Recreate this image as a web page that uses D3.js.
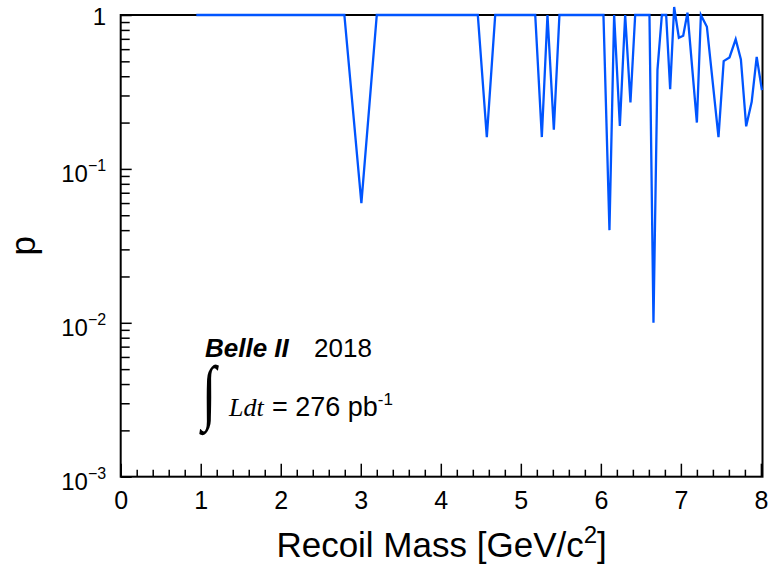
<!DOCTYPE html>
<html><head><meta charset="utf-8">
<script src="https://cdn.jsdelivr.net/npm/d3@7"></script>
<style>body{margin:0;background:#fff}svg{display:block}</style>
</head><body><svg id="c" width="769" height="572"></svg>
<script>
// ---- data ----
const massValues = [0.945, 2.795, 3.0075, 3.20, 4.4625, 4.575, 4.68, 5.18, 5.2625, 5.333, 5.4125, 5.4825,
  6.0325, 6.1075, 6.166, 6.2375, 6.30375, 6.37, 6.429, 6.6075, 6.6575, 6.7075, 6.7625, 6.816, 6.866,
  6.916, 6.975, 7.029, 7.0825, 7.20, 7.25, 7.325, 7.47, 7.535, 7.6075, 7.685, 7.75, 7.816, 7.885, 7.9475, 8.0125];
const pValues = [1, 1, 0.06, 1, 1, 0.161, 1, 1, 0.161, 1, 0.18, 1,
  1, 0.04, 1, 0.19, 1, 0.27, 1, 1, 0.01, 0.44, 1, 1, 0.33,
  1.127, 0.711, 0.733, 1.035, 0.20, 1, 0.839, 0.161, 0.502, 0.530, 0.695, 0.515, 0.189, 0.273, 0.535, 0.325];
const xMajorTicks = [0, 1, 2, 3, 4, 5, 6, 7, 8];
const xTickLabels = ["0", "1", "2", "3", "4", "5", "6", "7", "8"];
const yMajorTicks = [1e-3, 1e-2, 1e-1, 1];
const yTickBase = ["10", "10", "10", "1"];
const yTickExp = ["\u22123", "\u22122", "\u22121", ""];
const xDomain = [0, 8.02];
const yDomain = [1e-3, 1];

// ---- layout ----
const L = 120.7, R = 762.5, T = 15, B = 476.7;
const svg = d3.select("#c");
const x = d3.scaleLinear().domain(xDomain).range([L, R]);
const y = d3.scaleLog().domain(yDomain).range([B, T]);
const sans = "'Liberation Sans', Arial, Helvetica, sans-serif";
const serif = "'Liberation Serif', 'Times New Roman', serif";

// x minor ticks
const xMinor = d3.range(0, 8.001, 0.2).filter(v => Math.abs(v - Math.round(v)) > 1e-6);
svg.append("g").attr("transform", `translate(0,${B})`)
  .call(d3.axisBottom(x).tickValues(xMinor).tickSizeInner(-7).tickSizeOuter(0).tickFormat(""))
  .call(g => g.select(".domain").remove())
  .call(g => g.selectAll("line").attr("stroke", "#000").attr("stroke-width", 1.5));
// x major ticks
const gx = svg.append("g").attr("transform", `translate(0,${B})`)
  .call(d3.axisBottom(x).tickValues(xMajorTicks).tickSizeInner(-13).tickSizeOuter(0)
    .tickFormat((d, i) => xTickLabels[i]).tickPadding(0))
  .call(g => g.select(".domain").remove())
  .call(g => g.selectAll("line").attr("stroke", "#000").attr("stroke-width", 1.5));
gx.selectAll("text").attr("y", 32).attr("dy", null)
  .attr("font-family", sans).attr("font-size", 25).attr("fill", "#000");

// y minor ticks
const yMinor = [];
[1e-3, 1e-2, 1e-1].forEach(d => { for (let k = 2; k <= 9; k++) yMinor.push(d * k); });
svg.append("g").attr("transform", `translate(${L},0)`)
  .call(d3.axisLeft(y).tickValues(yMinor).tickSizeInner(-9).tickSizeOuter(0).tickFormat(""))
  .call(g => g.select(".domain").remove())
  .call(g => g.selectAll("line").attr("stroke", "#000").attr("stroke-width", 1.5));
// y major ticks
const gy = svg.append("g").attr("transform", `translate(${L},0)`)
  .call(d3.axisLeft(y).tickValues(yMajorTicks).tickSizeInner(-11).tickSizeOuter(0).tickFormat(""))
  .call(g => g.select(".domain").remove())
  .call(g => g.selectAll("line").attr("stroke", "#000").attr("stroke-width", 1.5));
gy.selectAll(".tick").each(function (d, i) {
  const t = d3.select(this).append("text")
    .attr("x", -14.5).attr("text-anchor", "end")
    .attr("font-family", sans).attr("fill", "#000");
  if (yTickExp[i]) {
    t.attr("y", 12.5);
    t.append("tspan").attr("font-size", 24).text(yTickBase[i]);
    t.append("tspan").attr("font-size", 16).attr("dy", -10.5).text(yTickExp[i]);
  } else {
    t.attr("y", 9).attr("font-size", 24).text(yTickBase[i]);
  }
});

// frame
svg.append("rect").attr("x", L).attr("y", T).attr("width", R - L).attr("height", B - T)
  .attr("fill", "none").attr("stroke", "#000").attr("stroke-width", 2);

// line
svg.append("path")
  .datum(massValues.map((m, i) => [m, pValues[i]]))
  .attr("fill", "none").attr("stroke", "#0055ff").attr("stroke-width", 2.3)
  .attr("stroke-linejoin", "miter")
  .attr("d", d3.line().x(d => x(d[0])).y(d => y(d[1])));

// axis titles
const xt = svg.append("text").attr("x", (L + R) / 2).attr("y", 557)
  .attr("text-anchor", "middle").attr("font-family", sans).attr("font-size", 35).attr("fill", "#000");
xt.append("tspan").text("Recoil Mass [GeV/c");
xt.append("tspan").attr("font-size", 24).attr("dy", -14).text("2");
xt.append("tspan").attr("dy", 14).text("]");

svg.append("text").attr("transform", `translate(35,${(T + B) / 2}) rotate(-90)`)
  .attr("text-anchor", "middle").attr("font-family", sans).attr("font-size", 35).attr("fill", "#000")
  .text("p");

// labels
svg.append("text").attr("x", 205).attr("y", 357).attr("font-family", sans)
  .attr("font-size", 26).attr("font-weight", "bold").attr("font-style", "italic").attr("fill", "#000")
  .text("Belle II");
svg.append("text").attr("x", 314).attr("y", 357).attr("font-family", sans)
  .attr("font-size", 26).attr("fill", "#000").text("2018");
svg.append("text").attr("x", 0).attr("y", 0).attr("font-family", serif)
  .attr("font-size", 45).attr("transform", "translate(202,416) scale(1.15,1.6)")
  .attr("fill", "#000").text("\u222B");
svg.append("text").attr("x", 229).attr("y", 416).attr("font-family", serif)
  .attr("font-size", 26).attr("font-style", "italic").attr("fill", "#000").text("Ldt");
const lum = svg.append("text").attr("x", 272).attr("y", 416).attr("font-family", sans)
  .attr("font-size", 27).attr("fill", "#000");
lum.append("tspan").text("= 276 pb");
lum.append("tspan").attr("font-size", 17).attr("dy", -11).text("-1");
</script>
</body></html>
